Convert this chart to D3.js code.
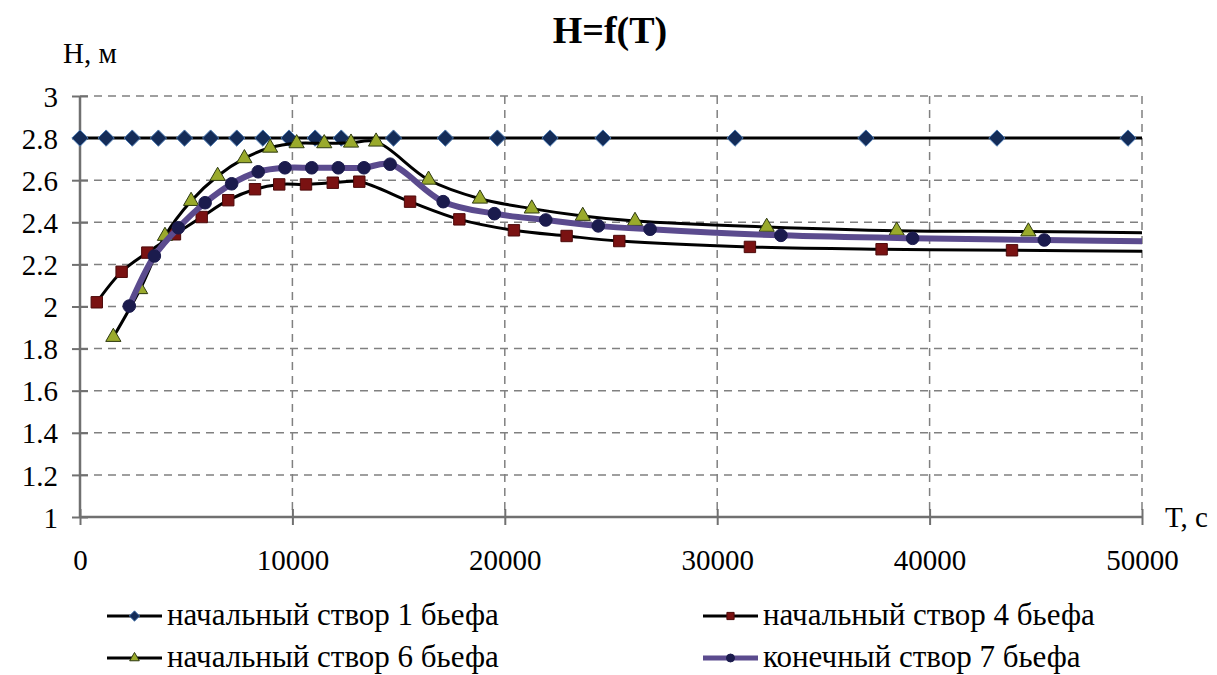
<!DOCTYPE html>
<html>
<head>
<meta charset="utf-8">
<script src="https://cdn.jsdelivr.net/npm/d3@7"></script>
<style>
  body { margin: 0; background: #fff; }
  svg text { font-family: 'Liberation Serif', 'DejaVu Serif', 'Times New Roman', serif; fill: #000; }
</style>
</head>
<body>
<script>
// Time axis values (s) and heads H (m)
const tStvor1 = [0, 1230, 2460, 3690, 4920, 6150, 7380, 8610, 9840, 11070, 12300, 14760, 17200, 19650, 22130, 24620, 30840, 37000, 43170, 49340, 55500];
const hStvor1 = [2.8, 2.8, 2.8, 2.8, 2.8, 2.8, 2.8, 2.8, 2.8, 2.8, 2.8, 2.8, 2.8, 2.8, 2.8, 2.8, 2.8, 2.8, 2.8, 2.8, 2.8];

const tStvor4 = [790, 1960, 3170, 4470, 5730, 6980, 8240, 9380, 10640, 11900, 13150, 15540, 17860, 20430, 22910, 25390, 31540, 37740, 43880, 50500];
const hStvor4 = [2.02, 2.165, 2.256, 2.343, 2.425, 2.505, 2.557, 2.58, 2.58, 2.588, 2.593, 2.498, 2.414, 2.362, 2.335, 2.311, 2.283, 2.272, 2.267, 2.262];

const tStvor6 = [1570, 2830, 4000, 5230, 6480, 7740, 8950, 10200, 11500, 12760, 13940, 16410, 18830, 21270, 23670, 26130, 32330, 38450, 44650, 50850];
const hStvor6 = [1.855, 2.082, 2.335, 2.501, 2.62, 2.704, 2.754, 2.775, 2.775, 2.778, 2.783, 2.602, 2.512, 2.465, 2.43, 2.406, 2.378, 2.36, 2.356, 2.35];

const tStvor7 = [2320, 3500, 4630, 5890, 7140, 8390, 9650, 10910, 12160, 13370, 14600, 17100, 19510, 21930, 24400, 26840, 33000, 39200, 45400, 51600];
const hStvor7 = [2.002, 2.24, 2.374, 2.493, 2.583, 2.64, 2.659, 2.659, 2.659, 2.659, 2.676, 2.498, 2.441, 2.411, 2.383, 2.367, 2.338, 2.324, 2.316, 2.308];

const seriesNames = ['начальный створ 1 бьефа', 'начальный створ 4 бьефа', 'начальный створ 6 бьефа', 'конечный створ 7 бьефа'];
const xTicks = [0, 10000, 20000, 30000, 40000, 50000];
const yTicks = [1, 1.2, 1.4, 1.6, 1.8, 2, 2.2, 2.4, 2.6, 2.8, 3];

const W = 1217, H = 675;
const margin = { top: 96, right: 75, bottom: 158, left: 80 };
const width = W - margin.left - margin.right;
const height = H - margin.top - margin.bottom;

const svg = d3.select('body').append('svg')
  .attr('width', W)
  .attr('height', H);

const g = svg.append('g')
  .attr('transform', `translate(${margin.left},${margin.top})`);

const x = d3.scaleLinear().domain([0, 50000]).range([0, width]);
const y = d3.scaleLinear().domain([1, 3]).range([height, 0]);

// grid
g.append('g').selectAll('line')
  .data(yTicks.slice(1))
  .join('line')
  .attr('x1', 0).attr('x2', width)
  .attr('y1', d => y(d)).attr('y2', d => y(d))
  .attr('stroke', '#808080').attr('stroke-width', 1.5)
  .attr('stroke-dasharray', '8,6');

g.append('g').selectAll('line')
  .data(xTicks.slice(1))
  .join('line')
  .attr('x1', d => x(d)).attr('x2', d => x(d))
  .attr('y1', 0).attr('y2', height)
  .attr('stroke', '#808080').attr('stroke-width', 1.5)
  .attr('stroke-dasharray', '8,6');

// axes
const yAxis = g.append('g')
  .call(d3.axisLeft(y).tickValues(yTicks).tickSize(8).tickPadding(14).tickFormat(d3.format('')));
yAxis.attr('font-family', null);
yAxis.select('.domain').remove();
yAxis.selectAll('.tick line').attr('x2', -8).attr('x1', 8).attr('stroke', '#707070').attr('stroke-width', 2);
yAxis.selectAll('.tick text').attr('font-size', 29).attr('dy', '0.35em');

const xAxis = g.append('g')
  .attr('transform', `translate(0,${height})`)
  .call(d3.axisBottom(x).tickValues(xTicks).tickSize(8).tickPadding(22).tickFormat(d3.format('d')));
xAxis.attr('font-family', null);
xAxis.select('.domain').remove();
xAxis.selectAll('.tick line').attr('y1', -8).attr('y2', 8).attr('stroke', '#707070').attr('stroke-width', 2);
xAxis.selectAll('.tick text').attr('font-size', 29).attr('dy', '0.8em');

g.append('line').attr('x1', 0).attr('x2', 0).attr('y1', 0).attr('y2', height)
  .attr('stroke', '#707070').attr('stroke-width', 2.5);
g.append('line').attr('x1', 0).attr('x2', width).attr('y1', height).attr('y2', height)
  .attr('stroke', '#707070').attr('stroke-width', 2.5);

// clip on the right side of the plot
svg.append('defs').append('clipPath').attr('id', 'plotclip')
  .append('rect').attr('x', -20).attr('y', -20).attr('width', width + 20).attr('height', height + 40);

const series = [
  { t: tStvor1, h: hStvor1, line: '#000', lw: 3, marker: 'diamond' },
  { t: tStvor4, h: hStvor4, line: '#000', lw: 3, marker: 'square' },
  { t: tStvor6, h: hStvor6, line: '#000', lw: 3, marker: 'triangle' },
  { t: tStvor7, h: hStvor7, line: '#5b4b8e', lw: 6, marker: 'circle' }
];

const markerStyle = {
  diamond: { sym: d3.symbolDiamond2, size: 170, fill: '#142c58', stroke: '#4a78b0' },
  square: { sym: d3.symbolSquare, size: 130, fill: '#7a1212', stroke: '#4d0a0a' },
  triangle: { sym: d3.symbolTriangle, size: 100, fill: '#9aaa2c', stroke: '#2e3a10' },
  circle: { sym: d3.symbolCircle, size: 125, fill: '#1b1b4d', stroke: '#1b1b4d' }
};

const lineGen = d3.line()
  .x(d => x(d[0]))
  .y(d => y(d[1]))
  .curve(d3.curveCatmullRom.alpha(0.5));

const plot = g.append('g').attr('clip-path', 'url(#plotclip)');

series.forEach(s => {
  const pts = s.t.map((t, i) => [t, s.h[i]]);
  plot.append('path')
    .datum(pts)
    .attr('d', lineGen)
    .attr('fill', 'none')
    .attr('stroke', s.line)
    .attr('stroke-width', s.lw)
    .attr('stroke-linejoin', 'round');
  const m = markerStyle[s.marker];
  plot.append('g').selectAll('path')
    .data(pts)
    .join('path')
    .attr('transform', d => `translate(${x(d[0])},${y(d[1])})`)
    .attr('d', d3.symbol().type(m.sym).size(m.size))
    .attr('fill', m.fill)
    .attr('stroke', m.stroke)
    .attr('stroke-width', 1);
});

// titles
svg.append('text')
  .attr('x', 610).attr('y', 43)
  .attr('text-anchor', 'middle')
  .attr('font-size', 38).attr('font-weight', 'bold')
  .text('H=f(T)');

svg.append('text')
  .attr('x', 63).attr('y', 63)
  .attr('font-size', 29)
  .text('H, м');

svg.append('text')
  .attr('x', 1165).attr('y', 527)
  .attr('font-size', 29)
  .text('T, с');

// legend
const legendPos = [[107, 625], [703, 625], [107, 667], [703, 667]];
series.forEach((s, i) => {
  const [lx, ly] = legendPos[i];
  const lg = svg.append('g').attr('transform', `translate(${lx},${ly - 9})`);
  lg.append('line')
    .attr('x1', 0).attr('x2', 55).attr('y1', 0).attr('y2', 0)
    .attr('stroke', s.line).attr('stroke-width', s.lw === 6 ? 5 : 3);
  const m = markerStyle[s.marker];
  lg.append('path')
    .attr('transform', 'translate(27.5,0)')
    .attr('d', d3.symbol().type(m.sym).size(m.size * 0.4))
    .attr('fill', m.fill).attr('stroke', m.stroke).attr('stroke-width', 1);
  svg.append('text')
    .attr('x', lx + 60).attr('y', ly)
    .attr('font-size', 31)
    .text(seriesNames[i]);
});
</script>
</body>
</html>
